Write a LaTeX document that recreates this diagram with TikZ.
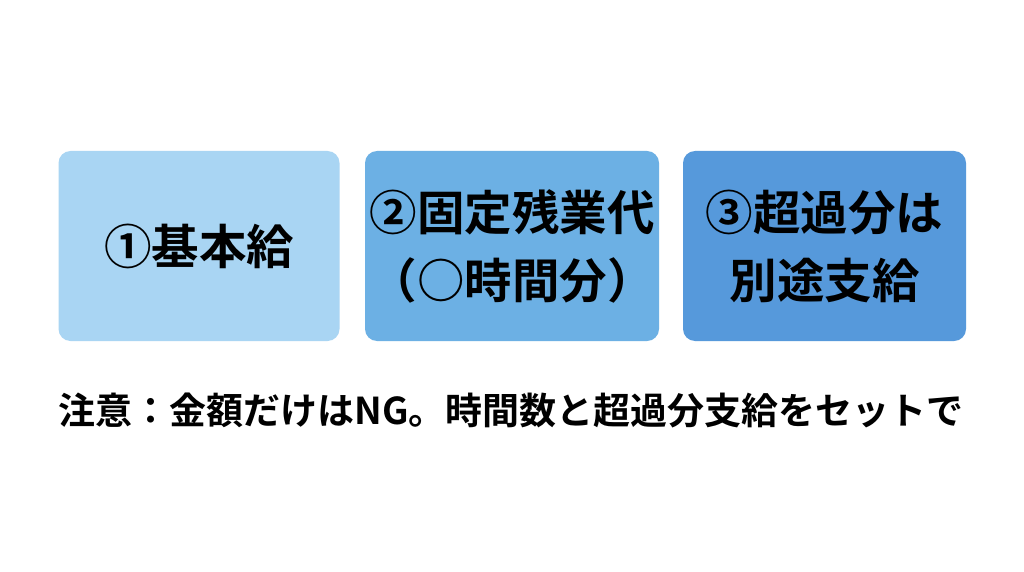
\documentclass[tikz,border=0pt]{standalone}
\usepackage{xcolor, tikz, fontspec}
\setmainfont{Noto Sans CJK JP}[BoldFont={* Bold}]
\definecolor{boxlight}{RGB}{169,213,243}
\definecolor{boxmid}{RGB}{108,176,228}
\definecolor{boxdark}{RGB}{86,153,219}
\tikzset{
    paybox/.style={rounded corners=12pt, minimum height=190pt, align=center, font=\fontsize{47.5}{68}\selectfont\bfseries, inner sep=0pt},
    notetext/.style={font=\fontsize{37}{40}\selectfont\bfseries, inner sep=0pt}
}

\begin{document}
\begin{tikzpicture}[x=1pt, y=-1pt]
    \newcommand\posA{199}
    \newcommand\posB{512}
    \newcommand\posC{824.5}
    \newcommand\posRow{246}

    \useasboundingbox[fill=white] (0, 0) rectangle (1024, 572);

    \node[paybox, fill=boxlight, minimum width=281pt] (base) at (\posA, \posRow){①基本給};
    \node[paybox, fill=boxmid, minimum width=294pt] (fixed) at (\posB, \posRow){②固定残業代\\（○時間分）};
    \node[paybox, fill=boxdark, minimum width=283pt] (extra) at (\posC, \posRow){③超過分は\\別途支給};

    \node[notetext] (note) at (511, 410){注意：金額だけはNG。時間数と超過分支給をセットで};
\end{tikzpicture}
\end{document}
